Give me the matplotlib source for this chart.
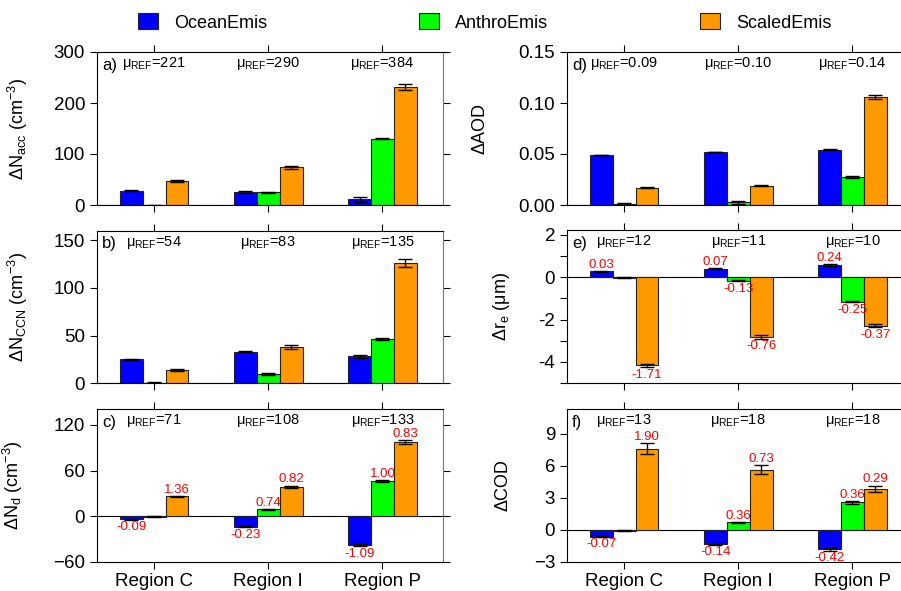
import matplotlib
matplotlib.use('Agg')
import matplotlib.pyplot as plt
from matplotlib.patches import Patch
import numpy as np

plt.rcParams['font.family'] = ['Liberation Sans', 'DejaVu Sans']
plt.rcParams['mathtext.fontset'] = 'custom'
plt.rcParams['mathtext.rm'] = 'Liberation Sans'
plt.rcParams['mathtext.it'] = 'Liberation Sans:italic'

regions = ['Region C', 'Region I', 'Region P']
series = ['OceanEmis', 'AnthroEmis', 'ScaledEmis']
colors = ['#0000FF', '#00FF00', '#FF9900']

# a) accumulation mode number
nacc_ocean = [28, 25, 11]
nacc_anthro = [-1, 25, 130]
nacc_scaled = [47, 74, 231]
nacc_err_ocean = [0.5, 1.5, 5]
nacc_err_anthro = [0.5, 0.5, 1]
nacc_err_scaled = [1.5, 3, 6]
nacc_mu = ['221', '290', '384']

# b) CCN number
nccn_ocean = [25, 33, 28]
nccn_anthro = [0.5, 9.5, 46.5]
nccn_scaled = [14, 38, 126]
nccn_err_ocean = [0.5, 0.8, 2]
nccn_err_anthro = [0.5, 1.5, 1.2]
nccn_err_scaled = [1, 2.5, 4]
nccn_mu = ['54', '83', '135']

# c) droplet number
nd_ocean = [-4, -13.6, -38]
nd_anthro = [-0.5, 9.2, 46.4]
nd_scaled = [26.3, 39, 98]
nd_err_ocean = [0.5, 0.8, 1.2]
nd_err_anthro = [0.3, 0.8, 1.5]
nd_err_scaled = [1, 1.5, 2.5]
nd_lab_ocean = ['-0.09', '-0.23', '-1.09']
nd_lab_anthro = [None, '0.74', '1.00']
nd_lab_scaled = ['1.36', '0.82', '0.83']
nd_mu = ['71', '108', '133']

# d) AOD
aod_ocean = [0.049, 0.052, 0.054]
aod_anthro = [0.001, 0.0026, 0.027]
aod_scaled = [0.017, 0.019, 0.106]
aod_err_ocean = [0.0003, 0.0003, 0.0005]
aod_err_anthro = [0.0012, 0.0012, 0.001]
aod_err_scaled = [0.0005, 0.0006, 0.0018]
aod_mu = ['0.09', '0.10', '0.14']

# e) effective radius
re_ocean = [0.27, 0.40, 0.58]
re_anthro = [-0.02, -0.17, -1.16]
re_scaled = [-4.17, -2.83, -2.30]
re_err_ocean = [0.02, 0.02, 0.03]
re_err_anthro = [0.01, 0.02, 0.02]
re_err_scaled = [0.08, 0.08, 0.07]
re_lab_ocean = ['0.03', '0.07', '0.24']
re_lab_anthro = [None, '-0.13', '-0.25']
re_lab_scaled = ['-1.71', '-0.76', '-0.37']
re_mu = ['12', '11', '10']

# f) cloud optical depth
cod_ocean = [-0.62, -1.34, -1.8]
cod_anthro = [-0.08, 0.71, 2.58]
cod_scaled = [7.6, 5.62, 3.85]
cod_err_ocean = [0.05, 0.05, 0.15]
cod_err_anthro = [0.03, 0.06, 0.15]
cod_err_scaled = [0.5, 0.4, 0.3]
cod_lab_ocean = ['-0.07', '-0.14', '-0.42']
cod_lab_anthro = [None, '0.36', '0.36']
cod_lab_scaled = ['1.90', '0.73', '0.29']
cod_mu = ['13', '18', '18']

fig = plt.figure(figsize=(9.01, 5.91), dpi=100)

W, H = 901.0, 591.0
def make_ax(left_px, top_px, bottom_px, width_px=346):
    return fig.add_axes([left_px / W, 1 - bottom_px / H, width_px / W, (bottom_px - top_px) / H])

ax_a = make_ax(97, 52, 205)
ax_b = make_ax(97, 231, 383)
ax_c = make_ax(97, 409, 562)
ax_d = make_ax(567, 52, 205)
ax_e = make_ax(567, 230, 383)
ax_f = make_ax(567, 409, 562)

x = np.arange(len(regions))
bw = 0.2
offsets = [-bw, 0, bw]


def panel(ax, vals, errs, labels, mu, tag, ylim, yticks, ylabel, lab_x, ytlabels=None,
          bottom=False):
    for k in range(3):
        ax.bar(x + offsets[k], vals[k], bw, color=colors[k], edgecolor='#222222',
               linewidth=0.8, zorder=2)
        ax.errorbar(x + offsets[k], vals[k], yerr=errs[k], fmt='none', ecolor='black',
                    elinewidth=1, capsize=5, capthick=1, zorder=3)
        if labels is not None:
            for i in range(3):
                lab = labels[k][i]
                if lab is None:
                    continue
                v = vals[k][i]
                if v >= 0:
                    ax.annotate(lab, (x[i] + offsets[k], v + errs[k][i]), xytext=(0, 0),
                                textcoords='offset points', ha='center', va='bottom',
                                color='red', fontsize=9.5, zorder=4)
                else:
                    ax.annotate(lab, (x[i] + offsets[k], v - errs[k][i]), xytext=(0, -1),
                                textcoords='offset points', ha='center', va='top',
                                color='red', fontsize=9.5, zorder=4)
    ax.axhline(0, color='black', lw=0.8, zorder=1)
    ax.set_xlim(-0.5, 2.53)
    ax.set_ylim(*ylim)
    ax.set_yticks(yticks)
    if ytlabels is not None:
        ax.set_yticklabels(ytlabels)
    ax.set_xticks(x)
    if bottom:
        ax.set_xticklabels(regions, fontsize=13.5)
    else:
        ax.set_xticklabels([])
    ax.tick_params(axis='x', top=True, direction='out', length=5, pad=3)
    ax.tick_params(axis='y', right=True, direction='out', length=5, labelsize=13.5)
    ax.spines['right'].set_color('#777777')
    for t in ax.yaxis.get_ticklines()[1::2]:
        t.set_color('#777777')
    ax.set_ylabel(ylabel, fontsize=13)
    ax.yaxis.set_label_coords(lab_x, 0.5)
    ax.text(0.015, 0.915, tag, transform=ax.transAxes, fontsize=12, va='center')
    trans = ax.get_xaxis_transform()
    for i in range(3):
        ax.text(x[i], 0.925, 'μ$_{\\rm REF}$=' + mu[i], transform=trans, ha='center',
                va='center', fontsize=10.5)


panel(ax_a, [nacc_ocean, nacc_anthro, nacc_scaled],
      [nacc_err_ocean, nacc_err_anthro, nacc_err_scaled], None, nacc_mu, 'a)',
      (0, 300), [0, 100, 200, 300], 'ΔN$_{\\rm acc}$ (cm$^{-3}$)', -0.194)
panel(ax_b, [nccn_ocean, nccn_anthro, nccn_scaled],
      [nccn_err_ocean, nccn_err_anthro, nccn_err_scaled], None, nccn_mu, 'b)',
      (0, 160), [0, 50, 100, 150], 'ΔN$_{\\rm CCN}$ (cm$^{-3}$)', -0.194)
panel(ax_c, [nd_ocean, nd_anthro, nd_scaled],
      [nd_err_ocean, nd_err_anthro, nd_err_scaled],
      [nd_lab_ocean, nd_lab_anthro, nd_lab_scaled], nd_mu, 'c)',
      (-60, 141), [-60, 0, 60, 120], 'ΔN$_{\\rm d}$ (cm$^{-3}$)', -0.208, bottom=True)
panel(ax_d, [aod_ocean, aod_anthro, aod_scaled],
      [aod_err_ocean, aod_err_anthro, aod_err_scaled], None, aod_mu, 'd)',
      (0, 0.15), [0, 0.05, 0.10, 0.15], 'ΔAOD', -0.228,
      ytlabels=['0.00', '0.05', '0.10', '0.15'])
panel(ax_e, [re_ocean, re_anthro, re_scaled],
      [re_err_ocean, re_err_anthro, re_err_scaled],
      [re_lab_ocean, re_lab_anthro, re_lab_scaled], re_mu, 'e)',
      (-5, 2.23), [-5, -4, -3, -2, -1, 0, 1, 2], 'Δr$_{\\rm e}$ (μm)', -0.159,
      ytlabels=['', '-4', '', '-2', '', '0', '', '2'])
panel(ax_f, [cod_ocean, cod_anthro, cod_scaled],
      [cod_err_ocean, cod_err_anthro, cod_err_scaled],
      [cod_lab_ocean, cod_lab_anthro, cod_lab_scaled], cod_mu, 'f)',
      (-3, 11.3), [-3, 0, 3, 6, 9], 'ΔCOD', -0.159, bottom=True)

handles = [Patch(facecolor=c, edgecolor='#222222', linewidth=0.8) for c in colors]
fig.legend(handles, series, ncol=3, loc='center', bbox_to_anchor=(0.538, 0.962),
           frameon=False, fontsize=13, handlelength=1.1, handleheight=1.0,
           columnspacing=8.4, handletextpad=0.9)

fig.savefig('out.png', dpi=100)
